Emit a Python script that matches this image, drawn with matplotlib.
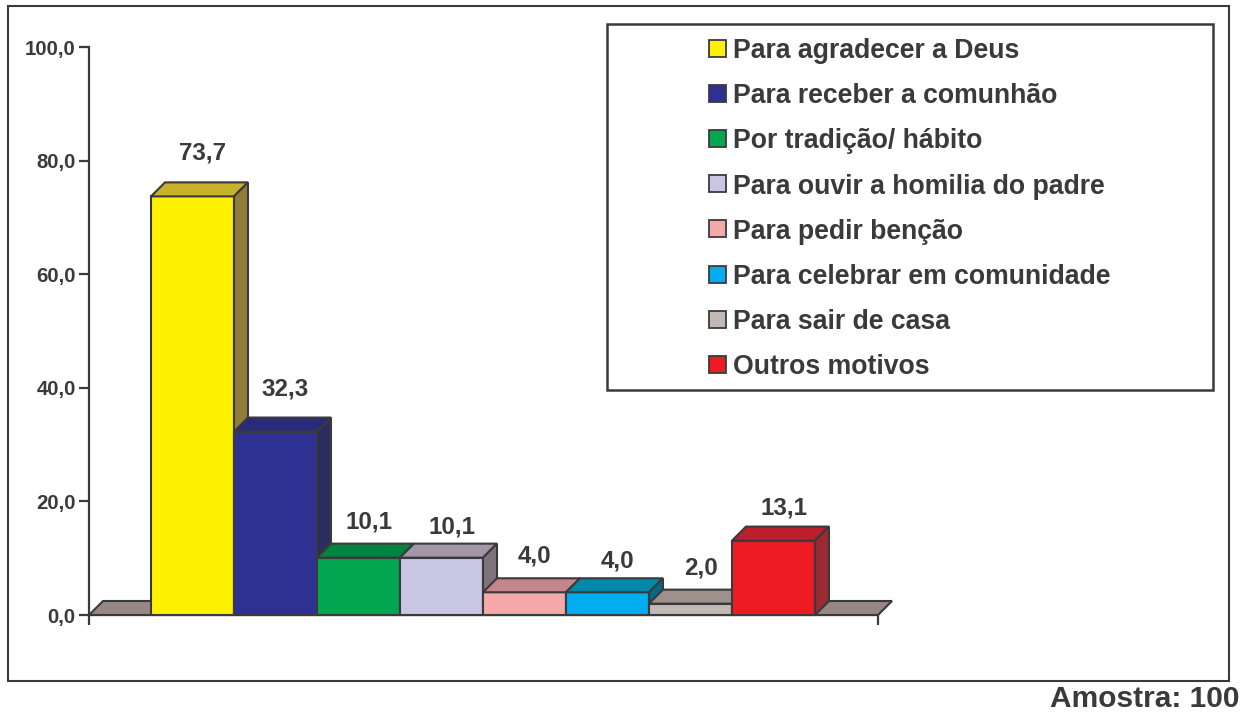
import matplotlib
matplotlib.use('Agg')
import matplotlib.pyplot as plt
from matplotlib.patches import Polygon, Rectangle

# ---- data ----
categories = ['Para agradecer a Deus', 'Para receber a comunhão', 'Por tradição/ hábito',
              'Para ouvir a homilia do padre', 'Para pedir benção',
              'Para celebrar em comunidade', 'Para sair de casa', 'Outros motivos']
values = [73.7, 32.3, 10.1, 10.1, 4.0, 4.0, 2.0, 13.1]
y_ticks = [0, 20, 40, 60, 80, 100]
y_tick_labels = ['0,0', '20,0', '40,0', '60,0', '80,0', '100,0']
sample_note = 'Amostra: 100'

# ---- style ----
FRONT = ['#FFF200', '#2E3192', '#00A650', '#C8C6E2', '#F6A9A9', '#00AEEF', '#C2B8B5', '#ED1C24']
TOP = ['#C8B22B', '#272B7A', '#00843F', '#A497A7', '#C4868A', '#0088A8', '#9E918E', '#BD1F2D']
SIDE = ['#917D3B', '#2B2D5E', '#0B5D35', '#7F737E', '#9A6B6D', '#006B84', '#7F7370', '#9A2932']
FLOOR = '#948784'
EDGE = '#3A3A3C'
TXT = '#3A3A3C'
LABEL_RAISE_PX = [43, 43, 36, 31, 36, 31, 36, 33]

plt.rcParams['font.family'] = ['Liberation Sans', 'DejaVu Sans']
plt.rcParams['font.weight'] = 'bold'

W, H = 1244, 713
fig = plt.figure(figsize=(W / 100, H / 100), dpi=100)
fig.patch.set_facecolor('white')

# overlay in pixel coordinates for frame, legend, note
ov = fig.add_axes([0, 0, 1, 1])
ov.set_xlim(0, W)
ov.set_ylim(H, 0)
ov.axis('off')
ov.add_patch(Rectangle((8, 6), 1229 - 8, 681 - 6, fc='none', ec=EDGE, lw=1.5))

# legend box
LX0, LY0, LX1, LY1 = 607, 24, 1213, 390
ov.add_patch(Rectangle((LX0, LY0), LX1 - LX0, LY1 - LY0, fc='white', ec=EDGE, lw=1.8))
row0, row_step = 48, 45.2
for k, name in enumerate(categories):
    yc = row0 + k * row_step
    ov.add_patch(Rectangle((709, yc - 8.5), 17, 17, fc=FRONT[k], ec=EDGE, lw=1.3))
    ov.text(733, yc, name, ha='left', va='center_baseline', fontsize=19.2,
            fontweight='bold', color=TXT)

ov.text(1240, 707, sample_note, ha='right', va='baseline', fontsize=21.5,
        fontweight='bold', color=TXT)

# main axes
AX_L, AX_R, AX_T, AX_B = 89, 878, 47, 615
ax = fig.add_axes([AX_L / W, (H - AX_B) / H, (AX_R - AX_L) / W, (AX_B - AX_T) / H])
ax.patch.set_alpha(0)
BAR_PX = 83.0
x0 = -0.5 - (151 - AX_L) / BAR_PX
x1 = x0 + (AX_R - AX_L) / BAR_PX
ax.set_xlim(x0, x1)
ax.set_ylim(0, 100)

DEPTH_PX = 14
dx = DEPTH_PX / BAR_PX
dy = DEPTH_PX * 100 / (AX_B - AX_T)

for s in ['top', 'right']:
    ax.spines[s].set_visible(False)
for s in ['left', 'bottom']:
    ax.spines[s].set_color(EDGE)
    ax.spines[s].set_linewidth(1.6)
    ax.spines[s].set_zorder(0.5)

ax.set_yticks(y_ticks)
ax.set_yticklabels(y_tick_labels)
ax.tick_params(axis='y', direction='out', length=7.5, width=1.6, color=EDGE,
               pad=2, labelsize=14.7, labelcolor=TXT)
ax.set_xticks([x0, x1])
ax.set_xticklabels([])
ax.tick_params(axis='x', direction='out', length=7.5, width=1.6, color=EDGE)

# floor
ax.add_patch(Polygon([(x0, 0), (x0 + dx, dy), (x1 + dx, dy), (x1, 0)], closed=True,
                     fc=FLOOR, ec=EDGE, lw=1.5, clip_on=False, zorder=1))

# bars
for i, v in enumerate(values):
    l, r = i - 0.5, i + 0.5
    z = 2 + i * 0.1
    ax.add_patch(Rectangle((l, 0), 1, v, fc=FRONT[i], ec=EDGE, lw=1.5,
                           clip_on=False, zorder=z))
    ax.add_patch(Polygon([(l, v), (l + dx, v + dy), (r + dx, v + dy), (r, v)], closed=True,
                         fc=TOP[i], ec=EDGE, lw=1.5, clip_on=False, zorder=z))
    ax.add_patch(Polygon([(r, 0), (r, v), (r + dx, v + dy), (r + dx, dy)], closed=True,
                         fc=SIDE[i], ec=EDGE, lw=1.5, clip_on=False, zorder=z))
    ax.annotate(f'{v:.1f}'.replace('.', ','), xy=(i, v),
                xytext=(10 * 0.72, LABEL_RAISE_PX[i] * 0.72), textcoords='offset points',
                ha='center', va='center', fontsize=17.4, fontweight='bold', color=TXT,
                zorder=5)

fig.savefig('out.png', dpi=100, facecolor='white')
